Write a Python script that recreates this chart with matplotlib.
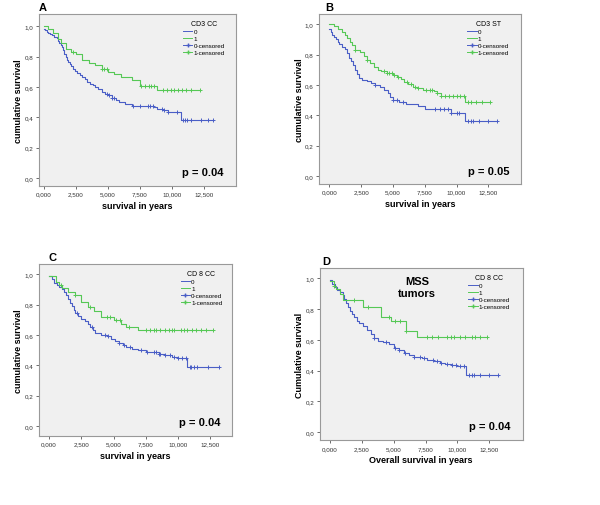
import numpy as np
import matplotlib
matplotlib.use('Agg')
import matplotlib.pyplot as plt
from matplotlib.lines import Line2D

plt.rcParams['font.family'] = ['Liberation Sans', 'DejaVu Sans']

# panel A - CD3 CC
gA_t = [0, 0.3, 0.7, 1.1, 1.35, 1.75, 2.1, 2.5, 3.0, 3.5, 4.0, 4.5, 5.0, 5.5, 6.0, 6.9, 7.5, 8.8, 12.2]
gA_s = [1.0, 0.98, 0.956, 0.917, 0.89, 0.85, 0.83, 0.818, 0.78, 0.76, 0.743, 0.72, 0.70, 0.685, 0.664, 0.645, 0.605, 0.579, 0.579]
bA_t = [0, 0.1, 0.2, 0.35, 0.5, 0.65, 0.8, 1.0, 1.1, 1.2, 1.3, 1.4, 1.5, 1.6, 1.7, 1.8, 1.9, 2.0, 2.15, 2.3,
        2.45, 2.6, 2.8, 3.0, 3.2, 3.4, 3.6, 3.8, 4.0, 4.25, 4.5, 4.75, 5.0, 5.3, 5.6, 5.9, 6.3, 6.9, 8.6, 8.8,
        9.3, 9.7, 10.7, 13.2]
bA_s = [0.98, 0.975, 0.965, 0.955, 0.95, 0.94, 0.93, 0.92, 0.905, 0.89, 0.875, 0.86, 0.845, 0.82, 0.80, 0.78,
        0.765, 0.75, 0.735, 0.72, 0.705, 0.695, 0.68, 0.665, 0.65, 0.635, 0.62, 0.61, 0.60, 0.585, 0.57, 0.555,
        0.545, 0.53, 0.515, 0.50, 0.49, 0.474, 0.465, 0.455, 0.45, 0.435, 0.384, 0.384]
gA_c = [2.3, 4.5, 4.7, 4.9, 7.6, 7.9, 8.2, 8.4, 8.6, 9.3, 9.6, 9.9, 10.2, 10.5, 10.8, 11.1, 11.5, 12.2]
bA_c = [4.9, 5.1, 5.3, 5.5, 7.0, 7.5, 8.1, 8.3, 8.5, 9.2, 9.4, 9.7, 10.4, 10.9, 11.0, 11.2, 11.5, 12.3, 12.8, 13.2]

# panel B - CD3 ST
gB_t = [0, 0.4, 0.7, 1.0, 1.2, 1.4, 1.6, 1.8, 2.0, 2.4, 2.7, 3.0, 3.2, 3.5, 3.8, 4.1, 4.5, 5.0, 5.3, 5.6,
        5.9, 6.2, 6.6, 7.0, 7.4, 8.2, 8.5, 8.8, 10.7, 12.6]
gB_s = [1.0, 0.985, 0.97, 0.95, 0.93, 0.91, 0.885, 0.86, 0.83, 0.815, 0.79, 0.765, 0.745, 0.72, 0.70, 0.69,
        0.678, 0.667, 0.655, 0.64, 0.62, 0.605, 0.59, 0.577, 0.567, 0.56, 0.545, 0.525, 0.488, 0.488]
bB_t = [0, 0.1, 0.2, 0.35, 0.5, 0.65, 0.8, 1.0, 1.2, 1.4, 1.55, 1.7, 1.85, 2.0, 2.15, 2.3, 2.6, 3.0, 3.3, 3.6,
        4.0, 4.3, 4.6, 4.8, 5.0, 5.5, 6.0, 7.0, 7.5, 9.6, 10.7, 13.2]
bB_s = [0.97, 0.95, 0.93, 0.915, 0.90, 0.885, 0.87, 0.85, 0.835, 0.81, 0.78, 0.755, 0.73, 0.70, 0.67, 0.645,
        0.635, 0.625, 0.61, 0.60, 0.585, 0.57, 0.545, 0.52, 0.50, 0.485, 0.475, 0.46, 0.44, 0.415, 0.365, 0.365]
gB_c = [2.0, 3.0, 4.3, 4.5, 4.7, 4.9, 5.1, 5.4, 6.1, 6.4, 6.7, 7.0, 7.6, 7.9, 8.1, 8.5, 8.8, 9.1, 9.4, 9.7,
        10.0, 10.3, 10.6, 10.9, 11.1, 11.5, 12.0, 12.6]
bB_c = [3.6, 5.0, 5.3, 5.8, 8.3, 8.7, 9.0, 9.3, 9.6, 10.0, 10.2, 10.9, 11.1, 11.3, 11.8, 12.5, 13.2]

# panel C - CD 8 CC
gC_t = [0, 0.5, 0.75, 1.0, 1.5, 2.0, 2.5, 3.0, 3.5, 4.0, 5.0, 5.6, 6.0, 6.9, 12.7]
gC_s = [0.99, 0.95, 0.93, 0.91, 0.88, 0.864, 0.82, 0.783, 0.76, 0.72, 0.70, 0.675, 0.65, 0.63, 0.63]
bC_t = [0, 0.2, 0.4, 0.6, 0.8, 1.0, 1.15, 1.3, 1.45, 1.6, 1.75, 1.9, 2.05, 2.25, 2.5, 2.75, 3.0, 3.2, 3.4, 3.6,
        4.0, 4.5, 4.8, 5.1, 5.4, 5.7, 6.0, 6.4, 6.9, 7.5, 8.0, 8.5, 9.0, 9.5, 10.0, 10.7, 13.2]
bC_s = [0.985, 0.965, 0.945, 0.93, 0.915, 0.90, 0.88, 0.86, 0.835, 0.81, 0.79, 0.765, 0.745, 0.725, 0.705,
        0.69, 0.67, 0.65, 0.63, 0.615, 0.60, 0.59, 0.575, 0.56, 0.55, 0.535, 0.52, 0.51, 0.50, 0.49, 0.485,
        0.475, 0.465, 0.455, 0.45, 0.39, 0.39]
gC_c = [0.9, 2.0, 3.2, 4.5, 4.7, 5.2, 5.5, 6.2, 7.5, 7.8, 8.1, 8.3, 8.6, 9.0, 9.3, 9.5, 9.7, 10.2, 10.5, 10.7,
        11.1, 11.4, 11.8, 12.2, 12.7]
bC_c = [2.2, 3.3, 4.3, 4.6, 5.4, 5.8, 6.3, 7.1, 7.6, 8.1, 8.3, 8.5, 8.6, 9.0, 9.4, 9.7, 10.0, 10.3, 10.6, 10.9,
        11.0, 11.2, 11.5, 12.3, 13.2]

# panel D - CD 8 CC, MSS tumors
gD_t = [0, 0.3, 0.5, 0.8, 1.0, 2.6, 4.0, 4.8, 6.0, 6.8, 12.3]
gD_s = [0.98, 0.95, 0.93, 0.90, 0.86, 0.81, 0.75, 0.72, 0.66, 0.62, 0.62]
bD_t = [0, 0.2, 0.4, 0.6, 0.8, 1.0, 1.15, 1.3, 1.45, 1.6, 1.75, 1.9, 2.1, 2.3, 2.6, 2.9, 3.2, 3.5, 3.8, 4.2,
        4.6, 5.0, 5.4, 5.8, 6.2, 6.6, 7.2, 7.6, 8.2, 8.6, 9.0, 9.5, 10.0, 10.7, 13.2]
bD_s = [0.99, 0.96, 0.94, 0.925, 0.91, 0.89, 0.865, 0.84, 0.81, 0.785, 0.765, 0.745, 0.725, 0.71, 0.69,
        0.665, 0.64, 0.615, 0.595, 0.585, 0.57, 0.55, 0.535, 0.515, 0.50, 0.49, 0.48, 0.47, 0.46, 0.45,
        0.44, 0.435, 0.43, 0.37, 0.37]
gD_c = [0.3, 1.9, 3.0, 4.6, 5.1, 5.5, 6.0, 7.6, 8.0, 8.5, 9.2, 9.5, 9.7, 10.2, 10.6, 11.1, 11.4, 11.8, 12.3]
bD_c = [3.5, 4.4, 5.1, 5.4, 5.9, 6.6, 7.1, 7.4, 8.1, 8.4, 8.7, 9.2, 9.6, 9.9, 10.2, 10.5, 10.9, 11.1, 11.3,
        11.8, 12.5, 13.2]

xticks = [0, 2.5, 5, 7.5, 10, 12.5]
xticklabels = ['0,000', '2,500', '5,000', '7,500', '10,000', '12,500']
yticks = [0, 0.2, 0.4, 0.6, 0.8, 1.0]
yticklabels = ['0,0', '0,2', '0,4', '0,6', '0,8', '1,0']

blue = '#4a5ec6'
green = '#55c855'

fig = plt.figure(figsize=(6, 5.06), dpi=100)


def step_val(t, s, c):
    i = np.searchsorted(t, c, side='right') - 1
    return np.array(s)[i]


def panel(rect, xlim, ylim, letter, letter_x, title, g_t, g_s, b_t, b_s, g_c, b_c, ptxt,
          ylabel='cumulative survival', xlabel='survival in years'):
    ax = fig.add_axes(rect)
    ax.set_facecolor('#f0f0f0')
    ax.step(b_t, b_s, where='post', color=blue, lw=0.8)
    ax.step(g_t, g_s, where='post', color=green, lw=0.8)
    ax.plot(b_c, step_val(b_t, b_s, b_c), '+', color=blue, ms=3, mew=0.7)
    ax.plot(g_c, step_val(g_t, g_s, g_c), '+', color=green, ms=3, mew=0.7)
    ax.set_xlim(xlim)
    ax.set_ylim(ylim)
    ax.set_xticks(xticks)
    ax.set_xticklabels(xticklabels)
    ax.set_yticks(yticks)
    ax.set_yticklabels(yticklabels)
    ax.tick_params(labelsize=4.5, length=2, width=0.5, colors='#333333', pad=2)
    for sp in ax.spines.values():
        sp.set_color('#999999')
        sp.set_linewidth(0.8)
    ax.set_xlabel(xlabel, fontsize=6.5, fontweight='bold', labelpad=3)
    ax.set_ylabel(ylabel, fontsize=6.5, fontweight='bold', labelpad=1)
    ax.text(0.94, 0.08, ptxt, transform=ax.transAxes, ha='right', va='center',
            fontsize=8, fontweight='bold')
    ax.text(letter_x, 1.015, letter, transform=ax.transAxes, ha='left', va='bottom',
            fontsize=8, fontweight='bold')
    handles = [
        Line2D([], [], color=blue, lw=0.7),
        Line2D([], [], color=green, lw=0.7),
        Line2D([], [], color=blue, lw=0.7, marker='+', ms=3),
        Line2D([], [], color=green, lw=0.7, marker='+', ms=3),
    ]
    ax.legend(handles, ['0', '1', '0-censored', '1-censored'], title=title,
              loc='upper left', bbox_to_anchor=(0.71, 0.99), frameon=False,
              fontsize=4.5, title_fontsize=5, handlelength=1.5,
              handletextpad=0.2, labelspacing=0.25, borderpad=0.2)
    return ax


panel([0.065, 0.630, 0.328, 0.340], (-0.39, 15.0), (-0.053, 1.079), 'A', 0.0, 'CD3 CC',
      gA_t, gA_s, bA_t, bA_s, gA_c, bA_c, 'p = 0.04')
panel([0.532, 0.634, 0.337, 0.336], (-0.79, 15.1), (-0.053, 1.066), 'B', 0.03, 'CD3 ST',
      gB_t, gB_s, bB_t, bB_s, gB_c, bB_c, 'p = 0.05')
panel([0.065, 0.136, 0.322, 0.340], (-0.78, 14.2), (-0.066, 1.066), 'C', 0.05, 'CD 8 CC',
      gC_t, gC_s, bC_t, bC_s, gC_c, bC_c, 'p = 0.04')
axD = panel([0.533, 0.128, 0.338, 0.340], (-0.78, 15.1), (-0.052, 1.065), 'D', 0.01, 'CD 8 CC',
            gD_t, gD_s, bD_t, bD_s, gD_c, bD_c, 'p = 0.04',
            ylabel='Cumulative survival', xlabel='Overall survival in years')
axD.text(0.48, 0.89, 'MSS\ntumors', transform=axD.transAxes, ha='center', va='center',
         fontsize=8, fontweight='bold', linespacing=1.2)

fig.savefig('out.png', dpi=100)
